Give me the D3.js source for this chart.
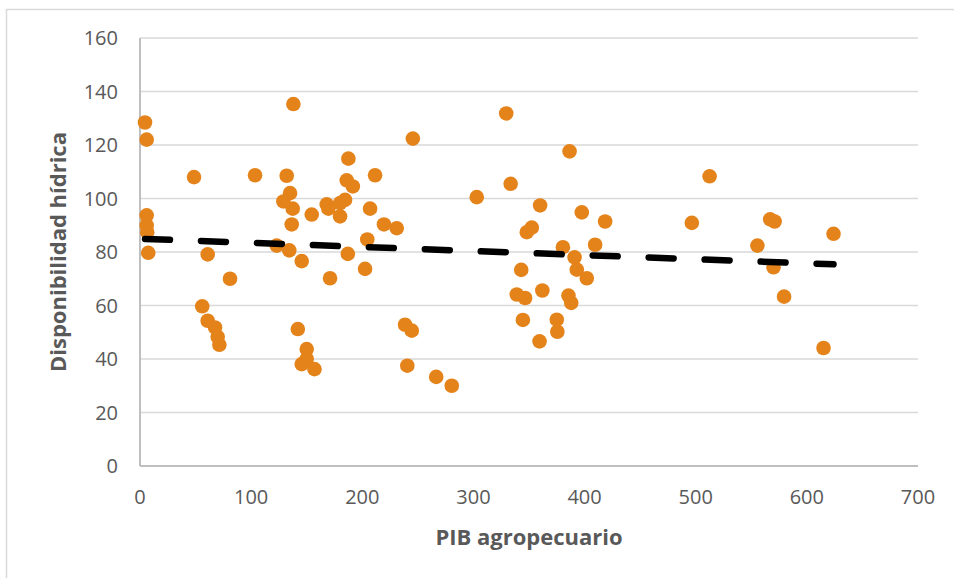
<!DOCTYPE html>
<html lang="es">
<head>
    <meta charset="UTF-8">
    <title>Disponibilidad hídrica vs PIB agropecuario</title>
    <script src="https://cdn.jsdelivr.net/npm/d3@7"></script>
    <style>
        body { margin: 0; background: #fff; }
        svg { display: block; }
        .tick-label { font-family: "Open Sans", sans-serif; font-size: 20px; fill: #595959; }
        .axis-title { font-family: "Open Sans", sans-serif; font-size: 22px; font-weight: bold; fill: #595959; }
    </style>
</head>
<body>
<script>
    /******* DATA *******/
    // PIB agropecuario (x) and Disponibilidad hídrica (y)
    const pib = [
        4.5, 6.0, 48.6, 103.5, 6.0, 6.0, 6.5, 7.4, 60.9, 81.0,
        56.0, 60.9, 67.5, 69.9, 71.4, 138.0, 132.0, 187.5, 211.5, 186.0,
        191.5, 135.0, 129.0, 137.4, 168.0, 169.5, 184.5, 180.0, 180.0, 154.5,
        207.0, 136.5, 204.5, 123.0, 134.3, 145.5, 187.0, 171.0, 202.5,
        142.0, 150.0, 145.5, 150.0, 157.0, 245.5, 303.0, 219.5, 231.0, 329.5,
        238.5, 244.5, 240.5, 266.5, 280.5, 386.5, 333.5, 360.0, 397.5, 418.5,
        352.5, 348.0, 380.5, 409.5, 391.0, 393.0, 343.0, 402.0, 339.0, 346.5,
        362.0, 385.5, 388.0, 344.5, 375.0, 375.5, 359.5, 512.5, 496.5, 567.0,
        571.0, 624.0, 555.5, 570.0, 579.5, 615.0
    ];
    const disponibilidad = [
        128.4, 122.0, 108.0, 108.7, 93.7, 89.9, 87.4, 79.7, 79.1, 70.0,
        59.7, 54.3, 51.8, 48.3, 45.3, 135.3, 108.5, 114.9, 108.7, 106.8,
        104.5, 102.0, 98.9, 96.2, 97.8, 96.2, 99.5, 98.3, 93.3, 94.0,
        96.2, 90.3, 84.7, 82.4, 80.6, 76.6, 79.3, 70.2, 73.7,
        51.2, 43.7, 38.1, 40.0, 36.2, 122.4, 100.5, 90.3, 88.9, 131.8,
        52.8, 50.6, 37.5, 33.3, 30.0, 117.6, 105.5, 97.4, 94.8, 91.4,
        89.1, 87.4, 81.8, 82.7, 78.0, 73.4, 73.3, 70.2, 64.1, 62.8,
        65.6, 63.7, 61.0, 54.6, 54.7, 50.2, 46.6, 108.3, 90.9, 92.2,
        91.4, 86.8, 82.4, 74.3, 63.3, 44.1
    ];
    // Linear trend line end points
    const trendX = [4.5, 624];
    const trendY = [84.9, 75.4];
    // Ticks
    const xTicks = [0, 100, 200, 300, 400, 500, 600, 700];
    const yTicks = [0, 20, 40, 60, 80, 100, 120, 140, 160];

    const points = pib.map((d, i) => ({x: d, y: disponibilidad[i]}));
    const trend = trendX.map((d, i) => ({x: d, y: trendY[i]}));

    /******* STYLING/FORMATTING *******/
    const width = 954;
    const height = 578;
    const svg = d3.select("body").append("svg")
        .attr("width", width)
        .attr("height", height);

    const margins = {top: 38, bottom: 112, left: 140, right: 36};

    // Chart frame
    svg.append("rect")
        .attr("x", 6.5).attr("y", 9.5)
        .attr("width", width).attr("height", height)
        .attr("fill", "none")
        .attr("stroke", "#D9D9D9")
        .attr("stroke-width", 1.5);

    /******* SCALES *******/
    const xScale = d3.scaleLinear()
        .domain([0, 700])
        .range([margins.left, width - margins.right]);
    const yScale = d3.scaleLinear()
        .domain([0, 160])
        .range([height - margins.bottom, margins.top]);

    // Gridlines
    svg.append("g")
        .selectAll("line")
        .data(yTicks.filter(d => d > 0))
        .enter()
        .append("line")
        .attr("x1", xScale(0)).attr("x2", xScale(700))
        .attr("y1", d => yScale(d)).attr("y2", d => yScale(d))
        .attr("stroke", "#D9D9D9")
        .attr("stroke-width", 1.5);

    // Axis lines
    svg.append("line")
        .attr("x1", xScale(0)).attr("x2", xScale(0))
        .attr("y1", yScale(160)).attr("y2", yScale(0))
        .attr("stroke", "#BFBFBF").attr("stroke-width", 2);
    svg.append("line")
        .attr("x1", xScale(0)).attr("x2", xScale(700))
        .attr("y1", yScale(0)).attr("y2", yScale(0))
        .attr("stroke", "#BFBFBF").attr("stroke-width", 2);

    // Tick labels
    svg.append("g")
        .selectAll("text")
        .data(yTicks)
        .enter()
        .append("text")
        .attr("class", "tick-label")
        .attr("x", xScale(0) - 22)
        .attr("y", d => yScale(d))
        .attr("dy", "0.36em")
        .attr("text-anchor", "end")
        .text(d => d);
    svg.append("g")
        .selectAll("text")
        .data(xTicks)
        .enter()
        .append("text")
        .attr("class", "tick-label")
        .attr("x", d => xScale(d))
        .attr("y", yScale(0) + 38)
        .attr("text-anchor", "middle")
        .text(d => d);

    /******* MARKS *******/
    svg.append("g")
        .selectAll("circle")
        .data(points)
        .enter()
        .append("circle")
        .attr("cx", d => xScale(d.x))
        .attr("cy", d => yScale(d.y))
        .attr("r", 7.3)
        .attr("fill", "#E5831B");

    const lineGen = d3.line()
        .x(d => xScale(d.x))
        .y(d => yScale(d.y));
    svg.append("path")
        .datum(trend)
        .attr("d", lineGen)
        .attr("fill", "none")
        .attr("stroke", "#000")
        .attr("stroke-width", 6.5)
        .attr("stroke-linecap", "round")
        .attr("stroke-dasharray", "25,31");

    /******* TITLES *******/
    svg.append("text")
        .attr("class", "axis-title")
        .attr("x", 529)
        .attr("y", 545)
        .attr("text-anchor", "middle")
        .text("PIB agropecuario");
    svg.append("text")
        .attr("class", "axis-title")
        .attr("transform", "translate(66,252) rotate(-90)")
        .attr("text-anchor", "middle")
        .text("Disponibilidad hídrica");
</script>
</body>
</html>
